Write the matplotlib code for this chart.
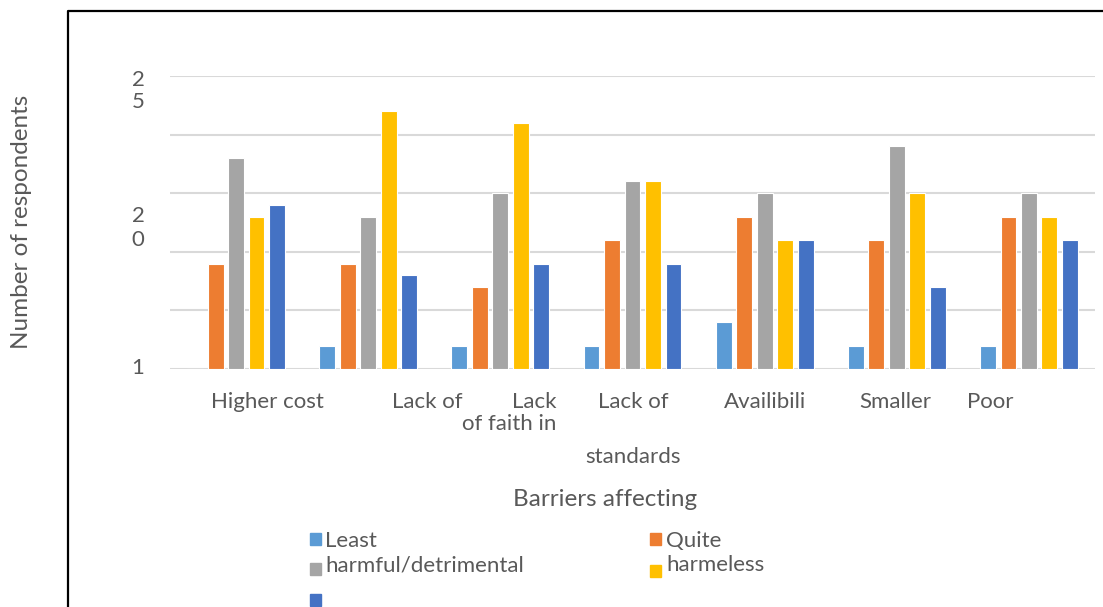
import numpy as np
import matplotlib
matplotlib.use("Agg")
import matplotlib.pyplot as plt
from matplotlib.lines import Line2D
from matplotlib.patches import Rectangle

# data
categories = ["Higher cost", "Lack of", "Lack of faith in", "Lack of standards",
              "Availibility", "Smaller", "Poor"]
least = [0, 2, 2, 2, 4, 2, 2]
quite = [9, 9, 7, 11, 13, 11, 13]
harmful = [18, 13, 15, 16, 15, 19, 15]
harmeless = [13, 22, 21, 16, 11, 15, 13]
other = [14, 8, 9, 9, 11, 7, 11]
series = [least, quite, harmful, harmeless, other]
colors = ["#5B9BD5", "#ED7D31", "#A5A5A5", "#FFC000", "#4472C4"]

W, H = 1103, 607
fig = plt.figure(figsize=(W / 100, H / 100), dpi=100)
plt.rcParams['font.family'] = ['Lato', 'DejaVu Sans']
txt = "#595959"

def fx(px):
    return px / W

def fy(py):
    return 1 - py / H

ax = fig.add_axes([fx(170), fy(369), fx(1095) - fx(170), fy(76) - fy(369)])
x = np.arange(len(categories))
step, width = 0.155, 0.12
for i, vals in enumerate(series):
    ax.bar(x + (i - 2) * step, vals, width, color=colors[i],
           edgecolor="white", linewidth=0.8, zorder=3)

ax.set_xlim(-0.5, 6.5)
ax.set_ylim(0, 25)
ax.set_yticks([0, 5, 10, 15, 20, 25])
ax.yaxis.grid(True, color="#D9D9D9", linewidth=1.5, zorder=0)
ax.tick_params(left=False, bottom=False, labelleft=False, labelbottom=False)
for s in ax.spines.values():
    s.set_visible(False)
ax.set_facecolor("none")

# y tick labels (broken as in original)
for t, py in [("2", 80), ("5", 102), ("2", 216), ("0", 240), ("1", 368)]:
    fig.text(fx(138), fy(py), t, ha="center", va="center", fontsize=16, color=txt)

# x tick labels as drawn
xlabels = [("Higher cost", 267, 402, "center"), ("Lack of", 427, 402, "center"),
           ("Lack", 556, 402, "right"), ("of faith in", 556, 424, "right"),
           ("Lack of", 633, 402, "center"), ("standards", 633, 457, "center"),
           ("Availibili", 765, 402, "center"), ("Smaller", 895, 402, "center"),
           ("Poor", 990, 402, "center")]
for t, px, py, ha in xlabels:
    fig.text(fx(px), fy(py), t, ha=ha, va="center", fontsize=16, color=txt)

fig.text(fx(22), fy(222), "Number of respondents", rotation=90, ha="center",
         va="center", fontsize=17.5, color=txt)
fig.text(fx(605), fy(500), "Barriers affecting", ha="center", va="center",
         fontsize=17.5, color=txt)

# legend
leg = [(310, 539, colors[0], "Least", 325, 541),
       (310, 569, colors[2], "harmful/detrimental", 325, 565),
       (650, 539, colors[1], "Quite", 666, 541),
       (650, 571, colors[3], "harmeless", 666, 565),
       (310, 600, colors[4], "", 325, 600)]
for sx, sy, c, t, tx, ty in leg:
    fig.add_artist(Rectangle((fx(sx), fy(sy + 6)), fx(11), 12 / H, color=c,
                             transform=fig.transFigure))
    if t:
        fig.text(fx(tx), fy(ty), t, ha="left", va="center", fontsize=16, color=txt)

# frame
fig.add_artist(Line2D([fx(68), fx(68), 1], [0, fy(11), fy(11)], color="black",
                      linewidth=1.6, transform=fig.transFigure))

fig.savefig("out.png", dpi=100)
